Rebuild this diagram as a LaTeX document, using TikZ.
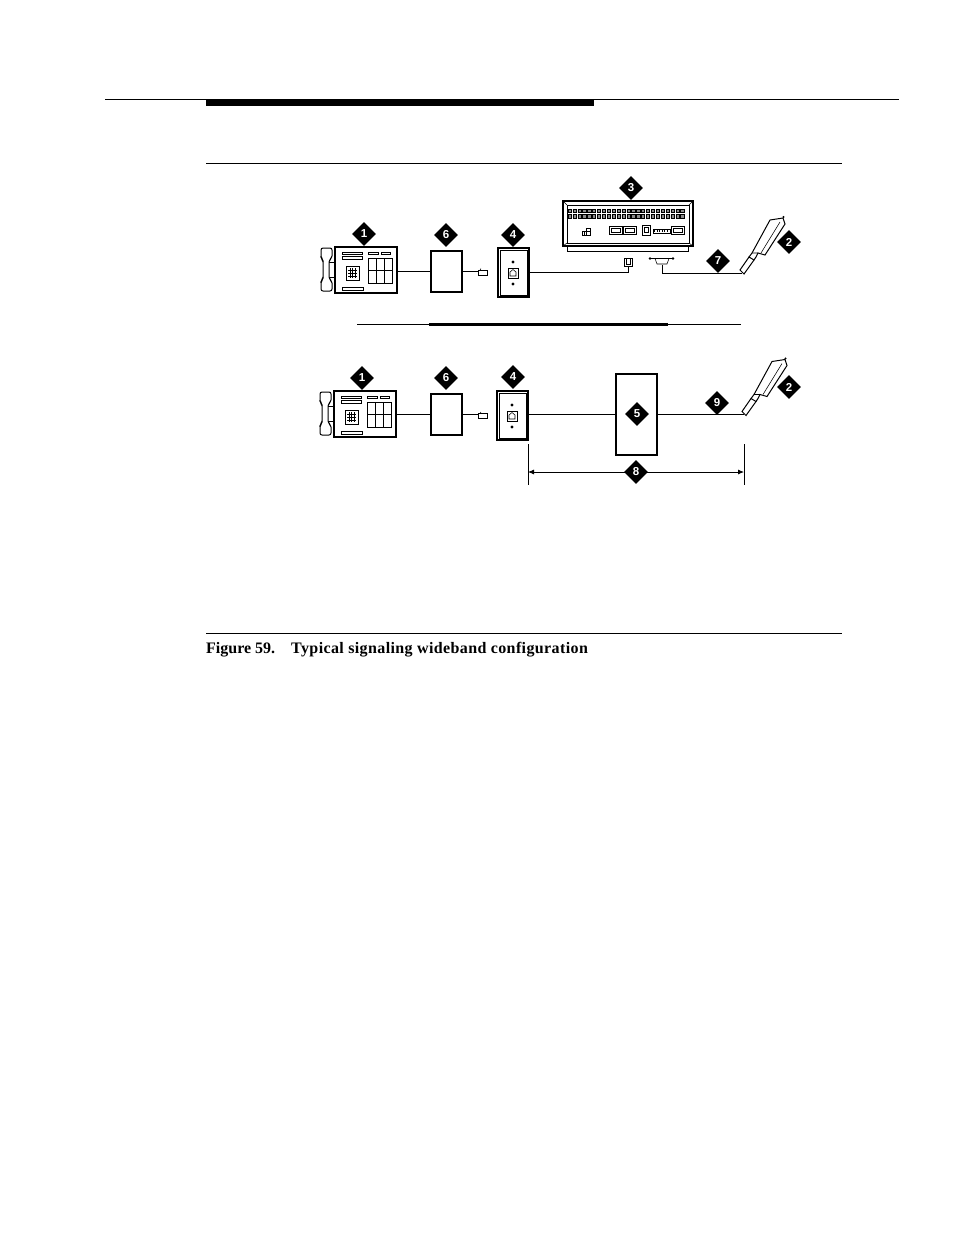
\documentclass[tikz,border=0pt]{standalone}
\usepackage{fontspec}
\setmainfont{Liberation Serif}
\newfontfamily\tagfont{Liberation Sans}
\usetikzlibrary{shapes.geometric,arrows.meta}
\tikzset{
  tag/.style={diamond,fill=black,text=white,inner sep=0pt,minimum size=24pt,font=\tagfont\fontsize{11.5}{11.5}\selectfont\bfseries},
  plainbox/.style={draw,line width=1.2pt,inner sep=0pt,outer sep=0pt},
  thinbox/.style={draw,line width=1pt,inner sep=0pt,outer sep=0pt},
  wire/.style={line width=.8pt},
  fine/.style={line width=.55pt},
  rule/.style={line width=1pt}
}
% telephone set, origin at the upper left corner of its body
\newcommand{\deskset}[3]{
\begin{scope}[shift={(#2,#3)}]
\node[plainbox,minimum width=62pt,minimum height=46pt] (#1body) at (31,23) {};
\draw[line width=1pt,rounded corners=2pt] (-14,1) -- (-3,1) -- (-3,11) -- (-6,13) -- (-6,32) -- (-3,34) -- (-3,44) -- (-14,44) -- (-14,34) -- (-12,32) -- (-12,13) -- (-14,11) -- cycle;
\draw[wire] (-6,15) -- (0,15) (-6,30) -- (0,30);
\draw[fine] (7,5) rectangle (27,7.5) (7,9) rectangle (27,12);
\draw[fine] (33,5) rectangle (43,7.5) (46,5) rectangle (55,7.5);
\draw[fine] (7,40) rectangle (28,43);
\draw[wire] (11,19) rectangle (24,33);
\foreach \i in {15,17.5,20} {\draw[fine] (\i,21) -- (\i,31);}
\foreach \i in {23,26,29} {\draw[fine] (13,\i) -- (22,\i);}
\draw[wire] (33,11) rectangle (57,36);
\draw[fine] (41,11) -- (41,36) (49,11) -- (49,36) (33,23) -- (57,23);
\end{scope}
}
% wall outlet, origin at its upper left corner
\newcommand{\wallplate}[3]{
\begin{scope}[shift={(#2,#3)}]
\node[plainbox,minimum width=31pt,minimum height=49pt] (#1) at (15.5,24.5) {};
\draw[fine] (2,2) rectangle (29,47);
\fill (15,14) circle (1.6pt) (15,36) circle (1.6pt);
\draw[wire] (10,20) rectangle (20,30);
\draw[fine] (12,28) -- (12,24) -- (15,21.5) -- (18,24) -- (18,28) -- cycle;
\end{scope}
}
% amphenol end of a cable, origin where the wire arrives
\newcommand{\cablehead}[3]{
\begin{scope}[shift={(#2,#3)}]
\coordinate (#1) at (0,0);
\draw[line width=1pt,fill=white] (1,0) -- (-2,-3) -- (7,-16) -- (12,-13) -- (2,1) -- cycle;
\draw[line width=1pt] (7,-16) -- (10,-20) -- (28,-53) -- (41,-55) -- (43,-49) -- (23,-18) -- (16,-20) -- (14,-16) -- (12,-13);
\draw[fine] (10,-20) -- (16,-20) (38,-51) -- (19,-20);
\fill (41.5,-56) circle (1.2pt);
\end{scope}
}
\begin{document}
\begin{tikzpicture}[x=1pt,y=-1pt]
\useasboundingbox (0,0) rectangle (954,1235);
% page rules
\draw[rule] (105,99.5) -- (899,99.5);
\fill (206,99) rectangle (594,106);
\draw[rule] (206,163.5) -- (842,163.5);
\draw[rule] (206,633.5) -- (842,633.5);
\node[anchor=base west,inner sep=0pt,font=\fontsize{16}{18}\selectfont\bfseries] (caption) at (206,653) {Figure 59.\hspace{16pt}\addfontfeatures{LetterSpace=2.4}Typical signaling wideband configuration};
% upper arrangement
\deskset{upper}{335}{247}
\node[plainbox,minimum width=31pt,minimum height=41pt] (upperbox) at (446.5,271.5) {};
\node[thinbox,minimum width=9pt,minimum height=5pt] (upperplug) at (482.5,272.5) {};
\draw[fine] (480,270) -- (481,268.5);
\wallplate{upperjack}{498}{248}
\draw[wire] (upperbody.east |- upperbox.west) -- (upperbox.west);
\draw[wire] (upperbox.east) -- (upperplug.west |- upperbox.east);
% the adjunct unit
\node[plainbox,minimum width=130pt,minimum height=45pt] (unit) at (628,223.5) {};
\draw[fine] (567,205) rectangle (689,243);
\draw[fine] (563,201) -- (567,205) (693,201) -- (689,205) (563,246) -- (567,243) (693,246) -- (689,243);
\node[thinbox,minimum width=121pt,minimum height=5pt] (tray) at (627.5,248.5) {};
\foreach \i in {0,...,23} {
  \draw[fine,fill=black!45] (568+4.9*\i,209) rectangle +(3.2,3.5) (568+4.9*\i,214.5) rectangle +(3.2,3.5);
}
\draw[fine] (582,231) rectangle (586,235) (586,228) rectangle (590,235) (584,231) -- (584,235) (586,231) -- (590,231);
\foreach \i in {609,623,671} {
  \draw[wire] (\i,226) rectangle +(13,8);
  \draw[fine] (\i+2,228) rectangle +(9,4);
}
\draw[wire] (642,225) rectangle (650,235);
\draw[fine] (644,227) rectangle (648,232);
\draw[fine] (653,229) rectangle (670,233);
\foreach \i in {654.5,657,...,669} {\draw[fine] (\i,230) -- (\i,232);}
\node[thinbox,minimum width=8pt,minimum height=8pt] (unitjack) at (628,262) {};
\draw[fine] (626,259) -- (626,264) -- (630,264) -- (630,259);
\node[inner sep=0pt,outer sep=0pt,minimum width=15pt,minimum height=5pt] (unitplug) at (662,262.5) {};
\draw[fine] (650,258.5) -- (673,258.5) -- (669,258.5) -- (667,264) -- (657,264) -- (655,258.5);
\fill (650,258.5) circle (1.4pt) (673,258.5) circle (1.4pt);
\cablehead{upperhead}{742}{273}
\draw[wire] (upperjack.east) -| (unitjack.south);
\draw[wire] (unitplug.south) |- (upperhead);
% divider
\draw[fine] (357,324.5) -- (741,324.5);
\fill (429,323) rectangle (668,326);
% lower arrangement
\deskset{lower}{334}{391}
\node[plainbox,minimum width=31pt,minimum height=41pt] (lowerbox) at (446.5,414.5) {};
\node[thinbox,minimum width=9pt,minimum height=5pt] (lowerplug) at (482.5,416) {};
\draw[fine] (480,413.5) -- (481,412);
\wallplate{lowerjack}{497}{391}
\node[plainbox,minimum width=41pt,minimum height=81pt] (hub) at (636.5,414.5) {};
\cablehead{lowerhead}{744}{414.5}
\draw[wire] (lowerbody.east |- lowerbox.west) -- (lowerbox.west);
\draw[wire] (lowerbox.east) -- (lowerplug.west |- lowerbox.east);
\draw[wire] (lowerjack.east |- hub.west) -- (hub.west);
\draw[wire] (hub.east) -- (lowerhead);
% span below
\coordinate (spanl) at (528,472);
\coordinate (spanr) at (744,472);
\draw[fine] (528,444) -- (528,485) (744,444) -- (744,485);
\draw[wire,{Latex[length=6pt,width=5pt]}-{Latex[length=6pt,width=5pt]}] (spanl) -- (spanr);
% item numbers
\node[tag] (tagone) at (364,234) {1};
\node[tag] (tagsix) at (446,235) {6};
\node[tag] (tagfour) at (513,235) {4};
\node[tag] (tagthree) at (631,188) {3};
\node[tag] (tagtwo) at (789,242) {2};
\node[tag] (tagseven) at (718,261) {7};
\node[tag] (lowerone) at (362,378) {1};
\node[tag] (lowersix) at (446,378) {6};
\node[tag] (lowerfour) at (513,377) {4};
\node[tag] (tagfive) at (637,414) {5};
\node[tag] (tagnine) at (717,403) {9};
\node[tag] (lowertwo) at (789,387) {2};
\node[tag] (tageight) at (636,472) {8};
\end{tikzpicture}
\end{document}
